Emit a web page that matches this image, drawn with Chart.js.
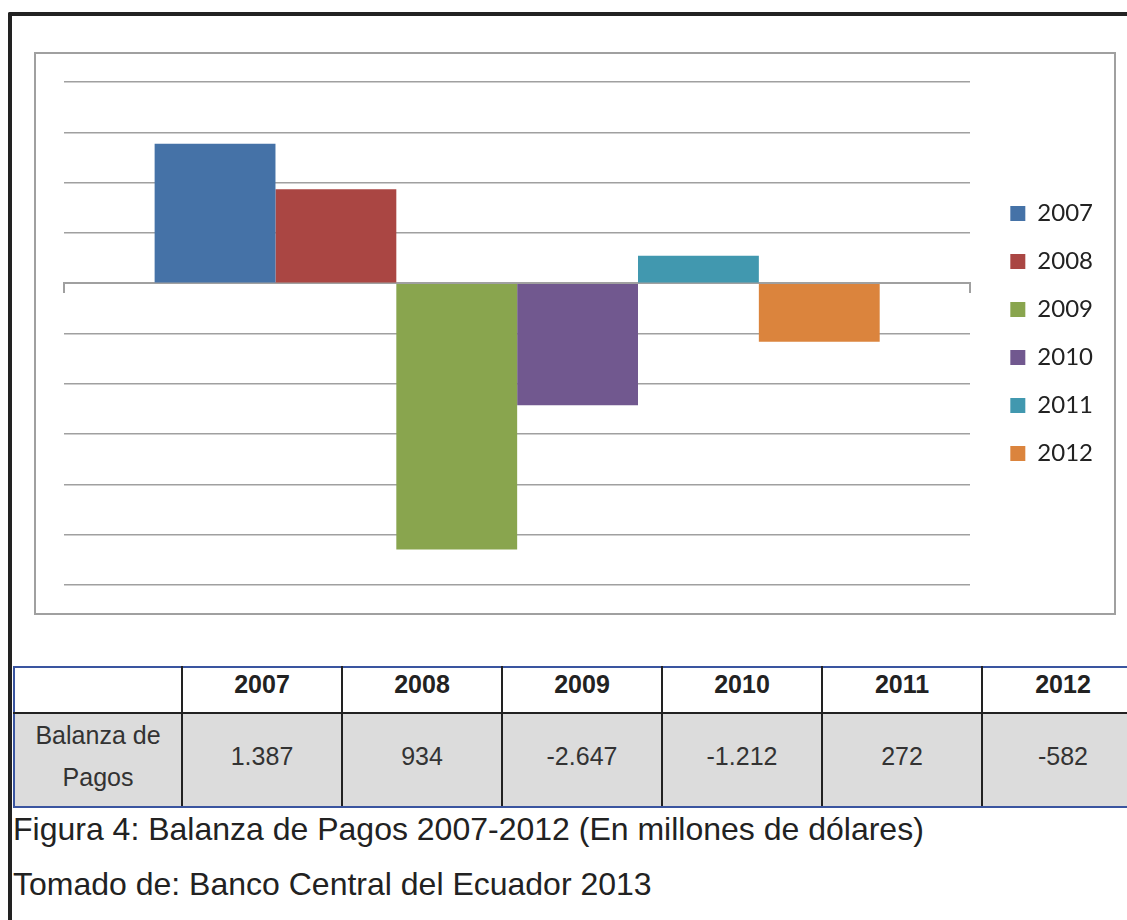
<!DOCTYPE html>
<html>
<head>
<meta charset="utf-8">
<script src="https://cdn.jsdelivr.net/npm/chart.js"></script>
<style>
  body { margin: 0; background: #fff; width: 1127px; height: 920px; overflow: hidden; position: relative; font-family: "Liberation Sans", Arial, sans-serif; }
  #frame { position: absolute; left: 8px; top: 12px; width: 1200px; height: 1000px; border-top: 4.5px solid #222; border-left: 4.5px solid #222; border-top-left-radius: 2px; }
  #box { position: absolute; left: 34px; top: 52px; width: 1078px; height: 559px; border: 2px solid #a0a0a0; }
  #tabla { position: absolute; left: 13px; top: 666px; width: 1130px; border-collapse: collapse; table-layout: fixed; }
  #tabla td { border-left: 2px solid #222; border-right: 2px solid #222; text-align: center; color: #333; font-size: 25px; padding: 0; }
  #tabla tr.cab td { height: 46px; padding-bottom: 12px; box-sizing: border-box; font-weight: bold; color: #222; border-top: 2px solid #3a55a0; border-bottom: 2px solid #222; }
  #tabla tr.dat td { height: 92px; padding-bottom: 8px; box-sizing: border-box; background: #dcdcdc; border-bottom: 2px solid #3a55a0; line-height: 42px; }
  #tabla td:first-child { border-left: 2px solid #3a55a0; }
  .cap { position: absolute; left: 13px; font-size: 32px; color: #222; white-space: nowrap; }
</style>
</head>
<body>
<div id="frame"></div>
<div id="box"><canvas id="myChart" width="1078" height="559"></canvas></div>
<table id="tabla"></table>
<div class="cap" style="top:811px">Figura 4: Balanza de Pagos 2007-2012 (En millones de dólares)</div>
<div class="cap" style="top:866px">Tomado de: Banco Central del Ecuador 2013</div>
<script>
const years = ['2007', '2008', '2009', '2010', '2011', '2012'];
const balanza = [1387, 934, -2647, -1212, 272, -582];
const shown = ['1.387', '934', '-2.647', '-1.212', '272', '-582'];
const colores = ['#4572A7', '#AA4643', '#89A54E', '#71588F', '#4198AF', '#DB843D'];

// tabla de datos
let tabla = document.querySelector('#tabla');
let widths = [168, 160, 160, 160, 160, 160, 162];
let cols = '<colgroup>' + widths.map(w => '<col style="width:' + w + 'px">').join('') + '</colgroup>';
let cab = '<tr class="cab"><td></td>' + years.map(y => '<td>' + y + '</td>').join('') + '</tr>';
let dat = '<tr class="dat"><td>Balanza de<br>Pagos</td>' + shown.map(v => '<td>' + v + '</td>').join('') + '</tr>';
tabla.innerHTML = cols + cab + dat;

const ctx = document.getElementById('myChart');

new Chart(ctx, {
  type: 'bar',
  data: {
    labels: ['Balanza de Pagos'],
    datasets: years.map((y, i) => ({
      label: y,
      data: [balanza[i]],
      backgroundColor: colores[i],
      borderWidth: 0
    }))
  },
  options: {
    responsive: false,
    animation: false,
    categoryPercentage: 0.8,
    barPercentage: 1.0,
    layout: {
      padding: { left: 28, top: 28, bottom: 28, right: 11 }
    },
    plugins: {
      tooltip: { enabled: false },
      legend: {
        position: 'right',
        labels: {
          boxWidth: 15,
          boxHeight: 15,
          padding: 24,
          color: '#222',
          font: { family: 'Lato', size: 24 }
        }
      }
    },
    scales: {
      x: {
        position: { y: 0 },
        ticks: { display: false },
        grid: {
          offset: true,
          drawOnChartArea: false,
          drawTicks: true,
          tickLength: 9,
          color: '#a0a0a0',
          lineWidth: 2
        },
        border: { display: true, color: '#a0a0a0', width: 2 }
      },
      y: {
        position: 'right',
        min: -3000,
        max: 2000,
        ticks: { display: false, stepSize: 500 },
        grid: { color: '#a0a0a0', lineWidth: 1.5, drawTicks: false },
        border: { display: false },
        afterFit: function (scale) { scale.width = 16; }
      }
    }
  }
});
</script>
</body>
</html>
